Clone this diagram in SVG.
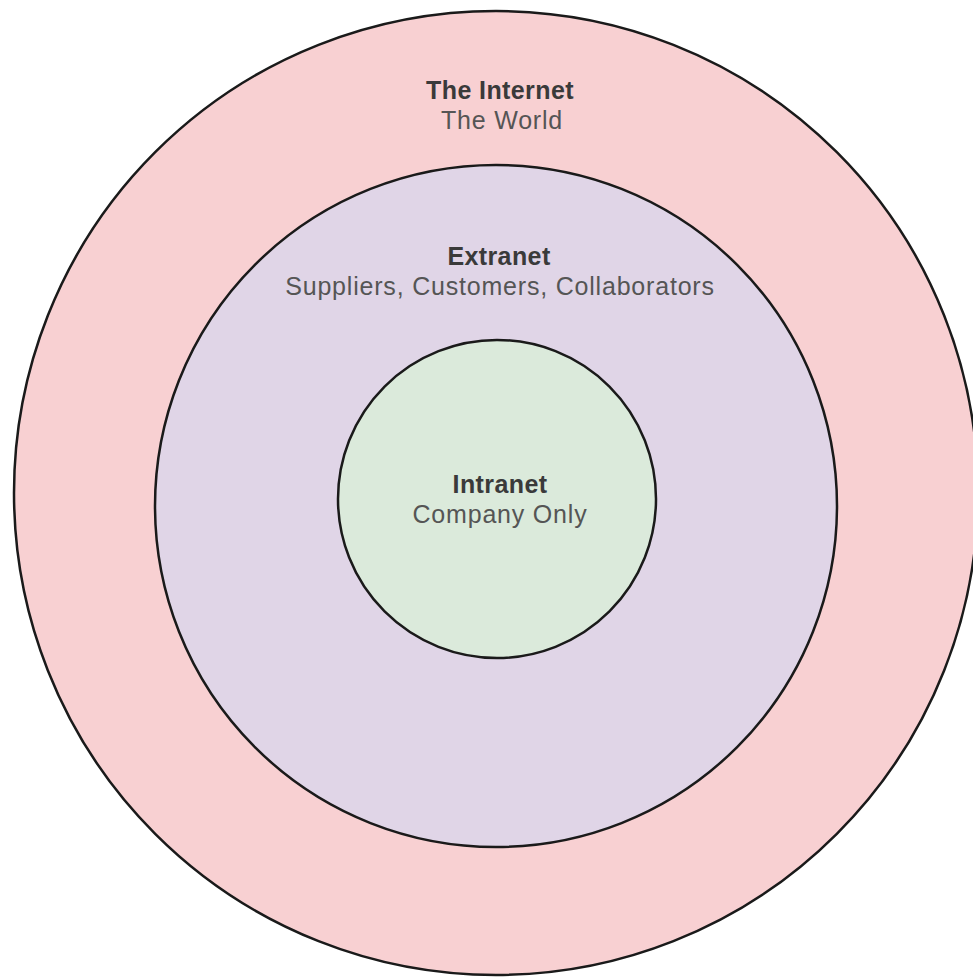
<svg xmlns="http://www.w3.org/2000/svg" width="973" height="979" viewBox="0 0 973 979">
<style>
.ring{stroke:#1a1a1a;stroke-width:2.5}
.t{font-family:"Liberation Sans",Arial,sans-serif;font-size:25px;text-anchor:middle}
.b{font-weight:bold;fill:#3a3a3a;letter-spacing:0.4px}
.r{fill:#555555;letter-spacing:0.8px}
</style>
<rect width="973" height="979" fill="#ffffff"/>
<g id="internet">
<circle class="ring" cx="496" cy="493" r="482" fill="#f8d0d2"/>
<text class="t b" x="500" y="99">The Internet</text>
<text class="t r" x="502" y="129">The World</text>
</g>
<g id="extranet">
<circle class="ring" cx="496" cy="506" r="341" fill="#e0d5e7"/>
<text class="t b" x="499" y="265">Extranet</text>
<text class="t r" x="500" y="295">Suppliers, Customers, Collaborators</text>
</g>
<g id="intranet">
<circle class="ring" cx="497" cy="499" r="159" fill="#dbeadb"/>
<text class="t b" x="500" y="493">Intranet</text>
<text class="t r" x="500" y="523">Company Only</text>
</g>
<g id="connectors"/>
</svg>
